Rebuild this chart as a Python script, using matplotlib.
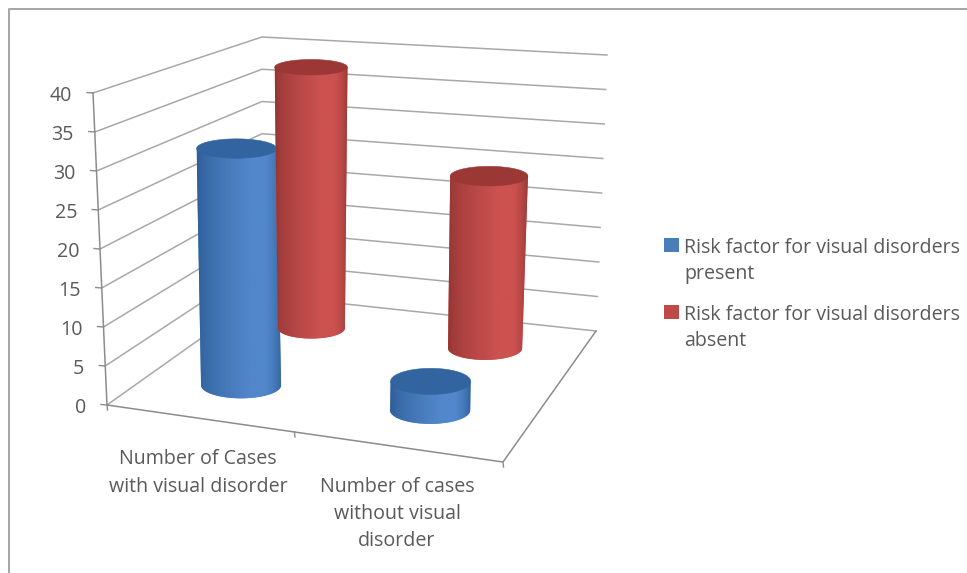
import numpy as np
import matplotlib
matplotlib.use("Agg")
import matplotlib.pyplot as plt
from matplotlib.colors import LinearSegmentedColormap
from matplotlib.patches import Polygon

categories = ["Number of Cases\nwith visual disorder", "Number of cases\nwithout visual\ndisorder"]
series_names = ["Risk factor for visual disorders\npresent", "Risk factor for visual disorders\nabsent"]
risk_present = [31.3, 3.7]
risk_absent = [38, 24.2]
value_ticks = [0, 5, 10, 15, 20, 25, 30, 35, 40]

FONT = "Open Sans"
TEXT = "#5a5a5a"
GRID = "#a8a8a8"
AXIS = "#8c8c8c"
VMAX = 40.0
LABEL_SIZE = 14.1

# box corners on screen: front-left, front-right, back-right, back-left
FLOOR = [(107, 405), (503, 462), (596, 331), (262, 295)]
CEIL = [(93, 93), (516, 125), (607, 55), (262, 37)]


def homography(corners):
    """Map the unit square (u along categories, v into depth) onto a quad."""
    src = [(0, 0), (1, 0), (1, 1), (0, 1)]
    A, b = [], []
    for (u, v), (x, y) in zip(src, corners):
        A.append([u, v, 1, 0, 0, 0, -u * x, -v * x])
        A.append([0, 0, 0, u, v, 1, -u * y, -v * y])
        b += [x, y]
    return np.append(np.linalg.solve(np.array(A, float), np.array(b, float)), 1).reshape(3, 3)


H_FLOOR = homography(FLOOR)
H_CEIL = homography(CEIL)


def project(u, v, w):
    """Chart position (u, v in 0..1, w = value) to screen position."""
    p = H_FLOOR @ [u, v, 1]
    q = H_CEIL @ [u, v, 1]
    p = p[:2] / p[2]
    q = q[:2] / q[2]
    return p + (q - p) * w / VMAX


def cylinder(ax, u, v, value, edge, mid, cap):
    back = (v - 0.25) / 0.5
    right = (u - 0.25) / 0.5
    rx0 = 40 - back * (6.5 - 3.5 * right)
    rx1 = rx0 + back * 3.0 * value / VMAX
    c0 = project(u, v, 0)
    c1 = project(u, v, value)
    # ellipses get rounder further down the screen
    ry0 = rx0 * (0.21 + (c0[1] - 60) * 0.00036)
    ry1 = rx1 * (0.21 + (c1[1] - 60) * 0.00036)

    # outline of the body: top edge left to right, then the bottom curve back
    th = np.linspace(0, np.pi, 80)
    outline = np.concatenate([
        [[c1[0] - rx1, c1[1]], [c1[0] + rx1, c1[1]]],
        np.column_stack([c0[0] + rx0 * np.cos(th), c0[1] + ry0 * np.sin(th)]),
    ])
    body = Polygon(outline, closed=True, transform=ax.transData,
                   facecolor=mid, edgecolor="none", zorder=3 + v)
    ax.add_patch(body)

    # horizontal shading clipped to the outline
    cmap = LinearSegmentedColormap.from_list(
        "body", [(0, edge), (0.58, mid), (0.72, mid), (1, edge)], N=256)
    x0 = min(c0[0] - rx0, c1[0] - rx1)
    x1 = max(c0[0] + rx0, c1[0] + rx1)
    xn = np.linspace(-1, 1, 240)
    shade = cmap((np.pi - np.arccos(xn)) / np.pi)[np.newaxis, :, :3]
    im = ax.imshow(shade, extent=[x0, x1, c0[1] + ry0 + 1, c1[1] - 1], aspect="auto",
                   interpolation="bilinear", zorder=3.05 + v)
    im.set_clip_path(body)

    th = np.linspace(0, 2 * np.pi, 120)
    ax.fill(c1[0] + rx1 * np.cos(th), c1[1] + ry1 * np.sin(th),
            color=cap, lw=0.4, zorder=3.1 + v)


fig = plt.figure(figsize=(9.67, 5.73), dpi=100)
ax = fig.add_axes([0, 0, 1, 1])
ax.axis("off")

# outer frame, only top and left survive
ax.plot([967, 8.5, 8.5], [8.5, 8.5, 573], color="#a6a6a6", lw=1.4, zorder=1)

# walls
for val in value_ticks:
    pts = np.array([project(0, 0, val), project(0, 1, val), project(1, 1, val)])
    ax.plot(pts[:, 0], pts[:, 1], color=GRID, lw=1.1, zorder=1)
    a = project(0, 0, val)
    ax.plot([a[0] - 6, a[0]], [a[1] - 0.5, a[1]], color=AXIS, lw=1.0, zorder=1)
    ax.text(a[0] - 21, a[1] + 3, str(val), ha="right", va="center",
            color=TEXT, fontsize=LABEL_SIZE, family=FONT)

# left axis and floor edges
pts = np.array([project(0, 0, 0), project(0, 0, VMAX)])
ax.plot(pts[:, 0], pts[:, 1], color=AXIS, lw=1.1, zorder=1)
pts = np.array([project(0, 0, 0), project(1, 0, 0), project(1, 1, 0)])
ax.plot(pts[:, 0], pts[:, 1], color=AXIS, lw=1.1, zorder=1)
for u in [0, 0.5, 1]:
    a = project(u, 0, 0)
    ax.plot([a[0], a[0] + 0.5], [a[1], a[1] + 5], color=AXIS, lw=1.0, zorder=1)

# back row first so the front row overlaps it
for i, val in enumerate(risk_absent):
    cylinder(ax, 0.255 + 0.5 * i, 0.75, val, "#8f3331", "#cc5250", "#9b3836")
for i, val in enumerate(risk_present):
    cylinder(ax, 0.255 + 0.5 * i, 0.25, val, "#2b5a93", "#5187cb", "#32659f")

# category labels
ax.text(198, 473, categories[0], ha="center", va="center", color=TEXT,
        fontsize=LABEL_SIZE, family=FONT, linespacing=1.5)
ax.text(397, 514, categories[1], ha="center", va="center", color=TEXT,
        fontsize=LABEL_SIZE, family=FONT, linespacing=1.5)

# legend
for y, name, color in [(261, series_names[0], "#4a7ebb"), (328, series_names[1], "#be4b48")]:
    ax.fill([664, 679, 679, 664], [y - 23, y - 23, y - 9, y - 9], color=color, lw=0, zorder=2)
    ax.text(684, y, name, ha="left", va="center", color=TEXT,
            fontsize=LABEL_SIZE, family=FONT, linespacing=1.4)

# imshow resets the limits, so fix them last
ax.set_xlim(0, 967)
ax.set_ylim(573, 0)

fig.savefig("out.png", dpi=100, facecolor="white")
